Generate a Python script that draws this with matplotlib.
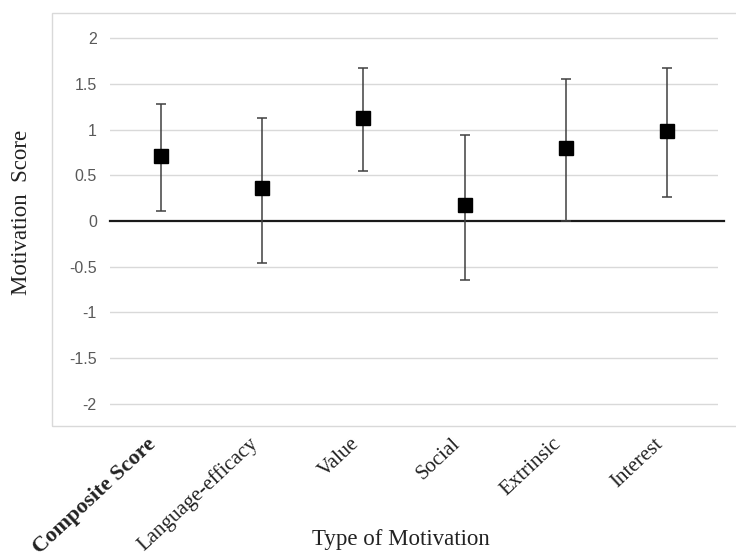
import matplotlib
matplotlib.use("Agg")
import matplotlib.pyplot as plt
import matplotlib.transforms as mtransforms
from matplotlib.patches import Rectangle

categories = ["Composite Score", "Language-efficacy", "Value", "Social", "Extrinsic", "Interest"]
means = [0.71, 0.36, 1.13, 0.17, 0.80, 0.99]
lower = [0.11, -0.46, 0.55, -0.65, 0.00, 0.26]
upper = [1.28, 1.13, 1.68, 0.94, 1.55, 1.68]
yticks = [-2, -1.5, -1, -0.5, 0, 0.5, 1, 1.5, 2]
ytick_labels = ["-2", "-1.5", "-1", "-0.5", "0", "0.5", "1", "1.5", "2"]

W, H = 736, 558
fig = plt.figure(figsize=(W / 100, H / 100), dpi=100)

# chart-area border
fig.patches.append(Rectangle((52 / W, 1 - 426 / H), (W + 10 - 52) / W, (426 - 13) / H,
                             transform=fig.transFigure, fill=False, edgecolor="#d9d9d9",
                             linewidth=1.0, clip_on=False))

ax = fig.add_axes([110 / W, 1 - 421.9 / H, (718 - 110) / W, (421.9 - 20.1) / H])
x = list(range(len(categories)))
err_lo = [m - l for m, l in zip(means, lower)]
err_hi = [u - m for m, u in zip(means, upper)]

for yv in yticks:
    if yv != 0:
        ax.axhline(yv, color="#d9d9d9", lw=1.0, zorder=0)
ax.axhline(0, color="#1a1a1a", lw=1.6, xmin=0, xmax=1.01, clip_on=False, zorder=1)

ax.errorbar(x, means, yerr=[err_lo, err_hi], fmt="s", color="black", markersize=9.5,
            ecolor="#404040", elinewidth=1.1, capsize=3.6, capthick=1.1, zorder=3)

ax.set_xlim(-0.5, len(categories) - 0.5)
ax.set_ylim(-2.2, 2.2)
ax.set_yticks(yticks)
ax.set_yticklabels(ytick_labels, fontsize=11.5, color="#595959", family="Liberation Sans")
ax.tick_params(axis="y", length=0, pad=9.5)
ax.set_xticks(x)
ax.set_xticklabels(categories, rotation=43, ha="right", va="center", rotation_mode="anchor",
                   family="Liberation Serif", fontsize=15, color="#222222")
ax.get_xticklabels()[0].set_fontweight("bold")
ax.get_xticklabels()[0].set_fontsize(16)
ax.tick_params(axis="x", length=0, pad=14)
shift = mtransforms.ScaledTranslation(-7 / 100, 0, fig.dpi_scale_trans)
for lbl in ax.get_xticklabels():
    lbl.set_transform(lbl.get_transform() + shift)
for s in ax.spines.values():
    s.set_visible(False)

fig.text(22 / W, 1 - 212 / H, "Motivation  Score", rotation=90, ha="center", va="center",
         family="Liberation Serif", fontsize=16.5, color="#222222")
fig.text(401 / W, 1 - 540 / H, "Type of Motivation", ha="center", va="center",
         family="Liberation Serif", fontsize=16.5, color="#222222")

fig.savefig("out.png", dpi=100)
